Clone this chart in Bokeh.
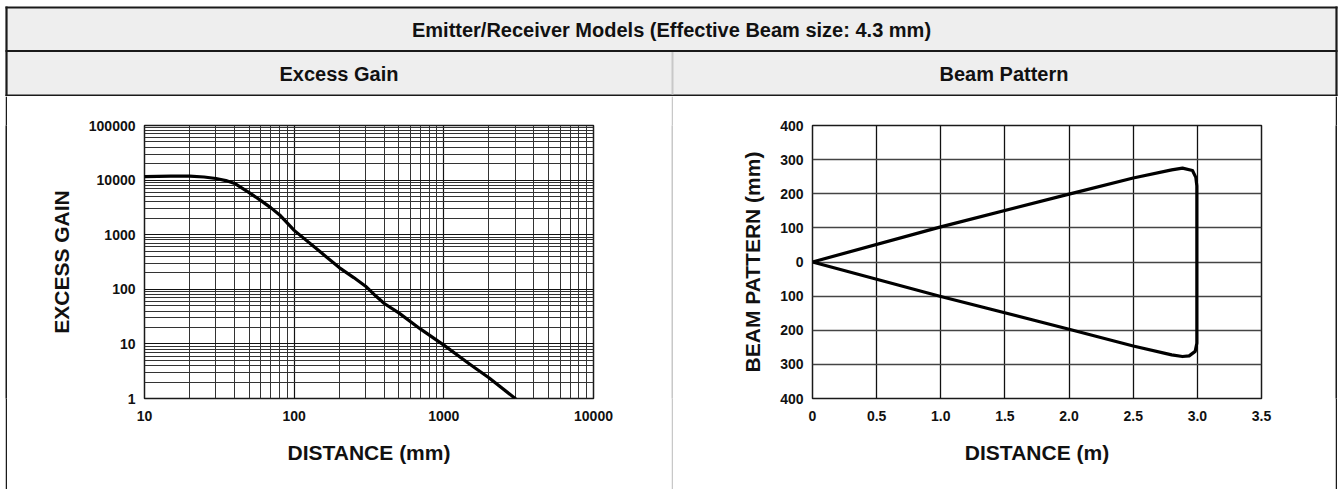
from bokeh.plotting import figure
from bokeh.layouts import column, row
from bokeh.models import Range1d, FixedTicker, CustomJSTickFormatter
from bokeh.embed import file_html
from bokeh.resources import INLINE
from bokeh.core.properties import value

# ---------------- data ----------------
TITLE = "Emitter/Receiver Models (Effective Beam size: 4.3 mm)"
PANEL_TITLES = ["Excess Gain", "Beam Pattern"]

gain_distance_mm = [10, 15, 20, 25, 30, 35, 40, 50, 60, 70, 80, 100, 150, 200,
                    250, 300, 350, 400, 500, 700, 1000, 1500, 2000, 3000]
excess_gain = [11600, 11800, 11800, 11400, 10700, 9800, 8700, 5900, 4200, 3100,
               2300, 1200, 480, 250, 164, 114, 76, 55, 37, 18.6, 9.5, 4.2, 2.4, 1.0]
gain_x_ticks = [10, 100, 1000, 10000]
gain_y_ticks = [1, 10, 100, 1000, 10000, 100000]
gain_x_label = "DISTANCE (mm)"
gain_y_label = "EXCESS GAIN"

beam_distance_m = [0, 1.0, 2.0, 2.5, 2.80, 2.884, 2.962, 2.988, 2.996,
                   2.996, 2.983, 2.936, 2.884, 2.80, 2.5, 2.0, 1.0, 0]
beam_pattern_mm = [0, 103, 199, 246, 270, 275, 268, 248, 223,
                   -238, -262, -275, -277, -272, -246, -197, -101, 0]
beam_x_ticks = [0, 0.5, 1.0, 1.5, 2.0, 2.5, 3.0, 3.5]
beam_y_ticks = [-400, -300, -200, -100, 0, 100, 200, 300, 400]
beam_x_label = "DISTANCE (m)"
beam_y_label = "BEAM PATTERN (mm)"

# ---------------- layout constants ----------------
W = 1338
HEAD_H = 96
LOW_H = 393
DARK = "#1a1a1a"
HEAD_BG = "#eeeeee"
DIVIDER = "#c8c8c8"
FONT = "Liberation Sans"
TXT = "#111111"

# ---------------- header ----------------
hdr = figure(width=W, height=HEAD_H, x_range=Range1d(0, W), y_range=Range1d(HEAD_H, 0),
             toolbar_location=None, output_backend="svg", min_border=0,
             x_axis_type=None, y_axis_type=None)
hdr.outline_line_color = None
hdr.background_fill_color = "white"
hdr.quad(left=[6], right=[1336], top=[7], bottom=[95], fill_color=HEAD_BG, line_color=None)
hdr.segment(x0=[5, 5, 5], y0=[7, 50.5, 95], x1=[1337, 1337, 1337], y1=[7, 50.5, 95],
            line_color=DARK, line_width=2.2)
hdr.segment(x0=[6, 1336], y0=[6, 6], x1=[6, 1336], y1=[HEAD_H, HEAD_H],
            line_color=DARK, line_width=2.2)
hdr.segment(x0=[672], y0=[51.5], x1=[672], y1=[94], line_color=DIVIDER, line_width=2)
hdr.text(x=[671], y=[29], text=[TITLE], text_align="center", text_baseline="middle",
         text_font=value(FONT), text_font_style="bold", text_font_size="20px",
         text_color=TXT)
hdr.text(x=[338.5, 1003.5], y=[73, 73], text=PANEL_TITLES, text_align="center",
         text_baseline="middle", text_font=value(FONT), text_font_style="bold",
         text_font_size="20px", text_color=TXT)


def bar(width, color):
    b = figure(width=width, height=LOW_H, x_range=Range1d(0, 1), y_range=Range1d(0, 1),
               toolbar_location=None, output_backend="svg", min_border=0,
               x_axis_type=None, y_axis_type=None)
    b.outline_line_color = None
    b.background_fill_color = color
    b.border_fill_color = color
    return b


def style_axes(p):
    for ax in (p.xaxis, p.yaxis):
        ax.axis_line_color = None
        ax.major_tick_line_color = None
        ax.minor_tick_line_color = None
        ax.major_tick_out = 0
        ax.major_tick_in = 0
        ax.minor_tick_out = 0
        ax.minor_tick_in = 0
        ax.major_label_text_font = FONT
        ax.major_label_text_font_style = "bold"
        ax.major_label_text_font_size = "14px"
        ax.major_label_text_color = TXT
        ax.axis_label_text_font = FONT
        ax.axis_label_text_font_style = "bold"
        ax.axis_label_text_font_size = "21px"
        ax.axis_label_text_color = TXT
    p.xaxis.major_label_standoff = 12
    p.yaxis.major_label_standoff = 9
    p.xaxis.axis_label_standoff = 17
    p.yaxis.axis_label_standoff = 13
    p.outline_line_color = DARK
    p.outline_line_width = 1.5


# ---------------- left: excess gain ----------------
left = figure(frame_width=449, frame_height=273, x_axis_type="log", y_axis_type="log",
              x_range=Range1d(10, 10000), y_range=Range1d(1, 100000),
              min_border_left=137, min_border_right=78, min_border_top=29,
              min_border_bottom=91, toolbar_location=None, output_backend="svg")
gx_minor = [m * t for t in gain_x_ticks[:-1] for m in range(2, 10)]
gy_minor = [m * t for t in gain_y_ticks[:-1] for m in range(2, 10)]
left.xaxis.ticker = FixedTicker(ticks=gain_x_ticks, minor_ticks=gx_minor)
left.yaxis.ticker = FixedTicker(ticks=gain_y_ticks, minor_ticks=gy_minor)
fmt_int = CustomJSTickFormatter(code="return String(Math.round(tick));")
left.xaxis.formatter = fmt_int
left.yaxis.formatter = fmt_int
left.xaxis.axis_label = gain_x_label
left.yaxis.axis_label = gain_y_label
style_axes(left)
for g in (left.xgrid, left.ygrid):
    g.grid_line_color = "#111111"
    g.grid_line_width = 1.2
    g.grid_line_alpha = 1.0
    g.minor_grid_line_color = "#333333"
    g.minor_grid_line_width = 1.0
    g.minor_grid_line_alpha = 1.0
left.line(gain_distance_mm, excess_gain, line_color="black", line_width=3.2,
          line_join="round", line_cap="round")

# ---------------- right: beam pattern ----------------
right = figure(frame_width=449, frame_height=273,
               x_range=Range1d(0, 3.5), y_range=Range1d(-400, 400),
               min_border_left=139, min_border_right=74, min_border_top=29,
               min_border_bottom=91, toolbar_location=None, output_backend="svg")
right.xaxis.ticker = FixedTicker(ticks=beam_x_ticks)
right.yaxis.ticker = FixedTicker(ticks=beam_y_ticks)
right.xaxis.formatter = CustomJSTickFormatter(
    code="return tick == 0 ? '0' : tick.toFixed(1);")
right.yaxis.formatter = CustomJSTickFormatter(code="return String(Math.abs(tick));")
right.xaxis.axis_label = beam_x_label
right.yaxis.axis_label = beam_y_label
style_axes(right)
right.xgrid.grid_line_color = "#111111"
right.ygrid.grid_line_color = "#444444"
for g in (right.xgrid, right.ygrid):
    g.grid_line_width = 1.3
    g.grid_line_alpha = 1.0
right.line(beam_distance_m, beam_pattern_mm, line_color="black", line_width=3.2,
           line_join="round", line_cap="round")

lower = row(bar(5, "white"), bar(2, DARK), left, bar(2, DIVIDER), right,
            bar(2, DARK), bar(1, "white"))
layout = column(hdr, lower)
open("out.html", "w").write(file_html(layout, INLINE))
